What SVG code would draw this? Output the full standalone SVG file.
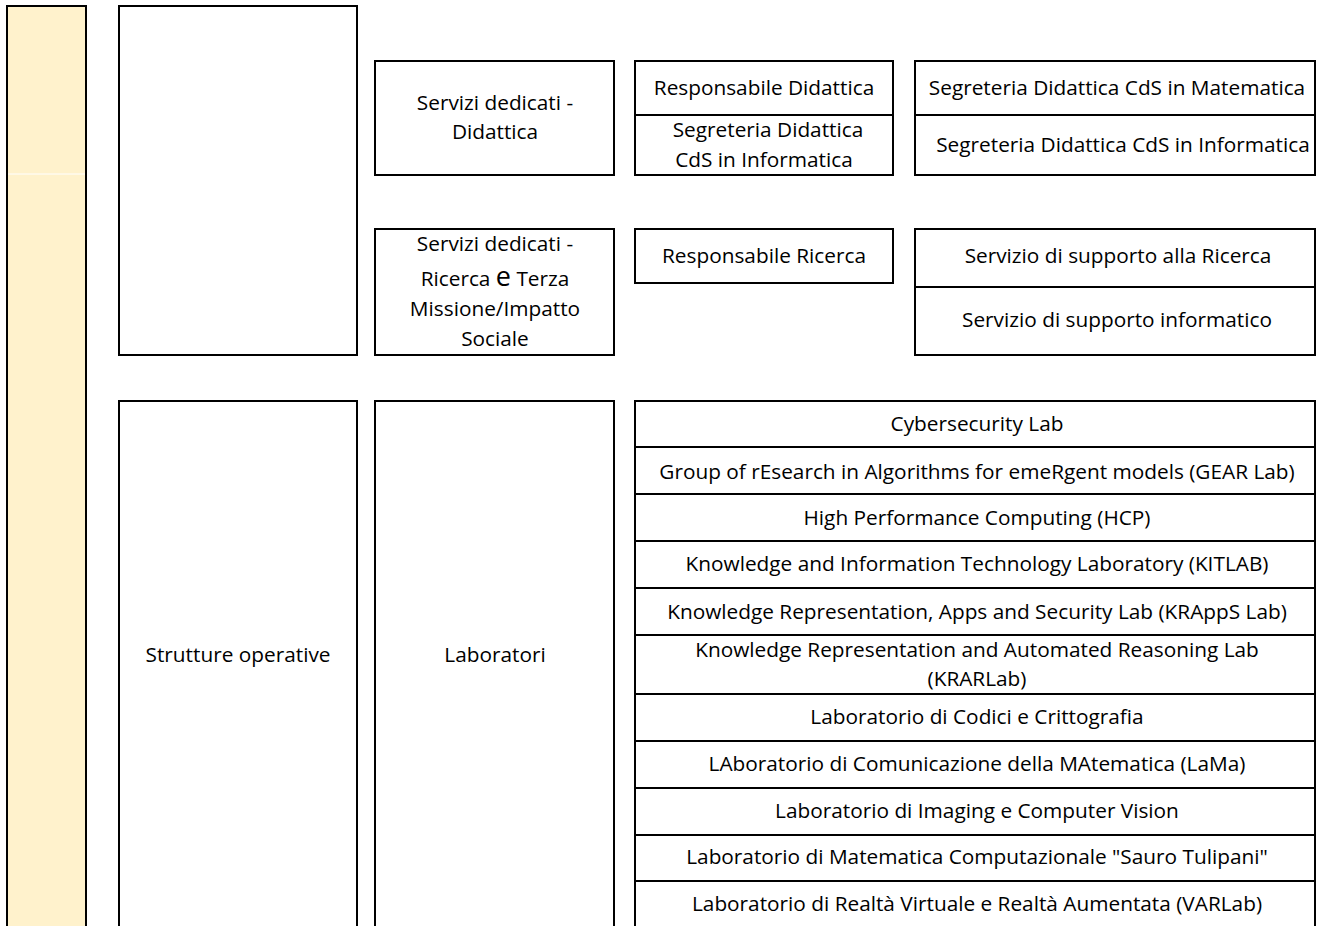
<svg xmlns="http://www.w3.org/2000/svg" width="1326" height="926" viewBox="0 0 1326 926">
<style>
.b{fill:#fff;stroke:#000;stroke-width:2}
.d{stroke:#000;stroke-width:2}
text{font-family:"Open Sans","Liberation Sans",sans-serif;font-size:20.8px;fill:#000;text-anchor:middle}
</style>
<rect width="1326" height="926" fill="#fff"/>
<g id="bar">
<rect x="7" y="6" width="79" height="940" fill="#FFF2CC" stroke="#000" stroke-width="2"/>
<line x1="8" y1="174" x2="85" y2="174" stroke="#fff" stroke-width="1"/>
</g>
<g id="top-left"><rect class="b" x="119" y="6" width="238" height="349"/></g>
<g id="servizi-didattica">
<rect class="b" x="375" y="61" width="239" height="114"/>
<text x="495" y="110">Servizi dedicati -</text>
<text x="495" y="139">Didattica</text>
</g>
<g id="resp-didattica">
<rect class="b" x="635" y="61" width="258" height="114"/>
<line class="d" x1="635" y1="115" x2="893" y2="115"/>
<text x="764" y="95">Responsabile Didattica</text>
<text x="768" y="137">Segreteria Didattica</text>
<text x="764" y="167">CdS in Informatica</text>
</g>
<g id="segreterie">
<rect class="b" x="915" y="61" width="400" height="114"/>
<line class="d" x1="915" y1="115" x2="1315" y2="115"/>
<text x="1117" y="95">Segreteria Didattica CdS in Matematica</text>
<text x="1123" y="152">Segreteria Didattica CdS in Informatica</text>
</g>
<g id="servizi-ricerca">
<rect class="b" x="375" y="229" width="239" height="126"/>
<text x="495" y="251">Servizi dedicati -</text>
<text x="495" y="286">Ricerca <tspan font-size="27">e</tspan> Terza</text>
<text x="495" y="316">Missione/Impatto</text>
<text x="495" y="346">Sociale</text>
</g>
<g id="resp-ricerca">
<rect class="b" x="635" y="229" width="258" height="54"/>
<text x="764" y="263">Responsabile Ricerca</text>
</g>
<g id="supporto">
<rect class="b" x="915" y="229" width="400" height="126"/>
<line class="d" x1="915" y1="287" x2="1315" y2="287"/>
<text x="1118" y="263">Servizio di supporto alla Ricerca</text>
<text x="1117" y="327">Servizio di supporto informatico</text>
</g>
<g id="strutture">
<rect class="b" x="119" y="401" width="238" height="545"/>
<text x="238" y="662">Strutture operative</text>
</g>
<g id="laboratori">
<rect class="b" x="375" y="401" width="239" height="545"/>
<text x="495" y="662">Laboratori</text>
</g>
<g id="labs">
<rect class="b" x="635" y="401" width="680" height="545"/>
<line class="d" x1="635" y1="447" x2="1315" y2="447"/>
<line class="d" x1="635" y1="494" x2="1315" y2="494"/>
<line class="d" x1="635" y1="541" x2="1315" y2="541"/>
<line class="d" x1="635" y1="588" x2="1315" y2="588"/>
<line class="d" x1="635" y1="635" x2="1315" y2="635"/>
<line class="d" x1="635" y1="694" x2="1315" y2="694"/>
<line class="d" x1="635" y1="741" x2="1315" y2="741"/>
<line class="d" x1="635" y1="788" x2="1315" y2="788"/>
<line class="d" x1="635" y1="835" x2="1315" y2="835"/>
<line class="d" x1="635" y1="881" x2="1315" y2="881"/>
<text x="977" y="431">Cybersecurity Lab</text>
<text x="977" y="479">Group of rEsearch in Algorithms for emeRgent models (GEAR Lab)</text>
<text x="977" y="525">High Performance Computing (HCP)</text>
<text x="977" y="571">Knowledge and Information Technology Laboratory (KITLAB)</text>
<text x="977" y="619">Knowledge Representation, Apps and Security Lab (KRAppS Lab)</text>
<text x="977" y="657">Knowledge Representation and Automated Reasoning Lab</text>
<text x="977" y="686">(KRARLab)</text>
<text x="977" y="724">Laboratorio di Codici e Crittografia</text>
<text x="977" y="771">LAboratorio di Comunicazione della MAtematica (LaMa)</text>
<text x="977" y="818">Laboratorio di Imaging e Computer Vision</text>
<text x="977" y="864">Laboratorio di Matematica Computazionale "Sauro Tulipani"</text>
<text x="977" y="911">Laboratorio di Realtà Virtuale e Realtà Aumentata (VARLab)</text>
</g>
<g id="connectors"/>
</svg>
